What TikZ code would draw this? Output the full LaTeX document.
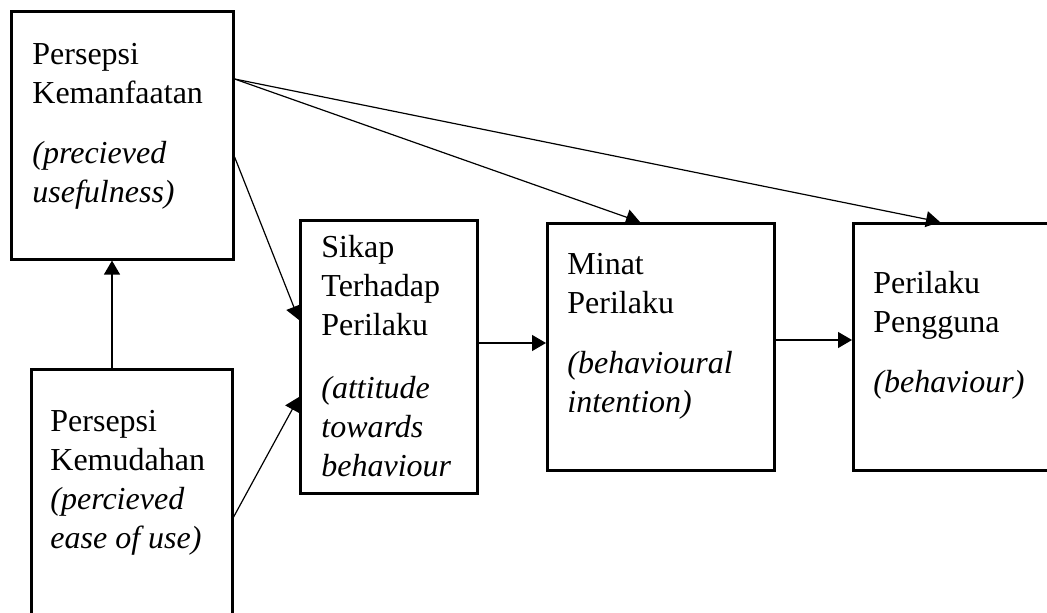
\documentclass[tikz,border=0pt]{standalone}
\usepackage{fontspec}
\setmainfont{Liberation Serif}
\usetikzlibrary{arrows.meta,calc}

\begin{document}
\begin{tikzpicture}[x=0.5pt, y=-0.5pt,
    box/.style={draw, line width=1.3pt, inner sep=0pt, anchor=north west},
    txt/.style={anchor=base west, align=left, inner sep=0pt, font=\fontsize{16}{19.5}\selectfont},
    arr/.style={-{Triangle[length=7pt, width=8pt]}, line width=0.6pt}]

    \clip (0,0) rectangle (1047,613);

    % ------------------ Boxes ------------------

    % Persepsi Kemanfaatan
    \node[box, minimum width=111pt, minimum height=124pt] (kem) at (10,10) {};
    \node[txt] (kemtxt) at (32,203) {Persepsi\\Kemanfaatan\\[10.5pt]\textit{(precieved}\\\textit{usefulness)}};

    % Persepsi Kemudahan
    \node[box, minimum width=100.5pt, minimum height=140pt] (mud) at (30,368) {};
    \node[txt] (mudtxt) at (50,548) {Persepsi\\Kemudahan\\\textit{(percieved}\\\textit{ease of use)}};

    % Sikap
    \node[box, minimum width=88.5pt, minimum height=136.5pt] (sik) at (299,219) {};
    \node[txt] (siktxt) at (321,477) {Sikap\\Terhadap\\Perilaku\\[12pt]\textit{(attitude}\\\textit{towards}\\\textit{behaviour}};

    % Minat
    \node[box, minimum width=113.5pt, minimum height=123.5pt] (min) at (546,222) {};
    \node[txt] (mintxt) at (567,413) {Minat\\Perilaku\\[10.5pt]\textit{(behavioural}\\\textit{intention)}};

    % Perilaku Pengguna
    \node[box, minimum width=110pt, minimum height=123.5pt] (pen) at (852,222) {};
    \node[txt] (pentxt) at (873,393) {Perilaku\\Pengguna\\[10.5pt]\textit{(behaviour)}};

    % ------------------ Arrows ------------------

    \draw[arr] ($(mud.north west)+(82,0)$) -- ($(kem.south west)+(102,0)$);
    \draw[arr] ($(kem.north east)+(0,69)$) -- ($(min.north west)+(94,0)$);
    \draw[arr] ($(kem.north east)+(0,69)$) -- ($(pen.north west)+(88,0)$);
    \draw[arr] ($(kem.north east)+(0,147)$) -- ($(sik.north west)+(0,101)$);
    \draw[arr] ($(mud.north east)+(0,149)$) -- ($(sik.north west)+(0,178)$);
    \draw[arr] ($(sik.north east)+(0,124)$) -- ($(min.north west)+(0,121)$);
    \draw[arr] ($(min.north east)+(0,118)$) -- ($(pen.north west)+(0,118)$);

\end{tikzpicture}
\end{document}
